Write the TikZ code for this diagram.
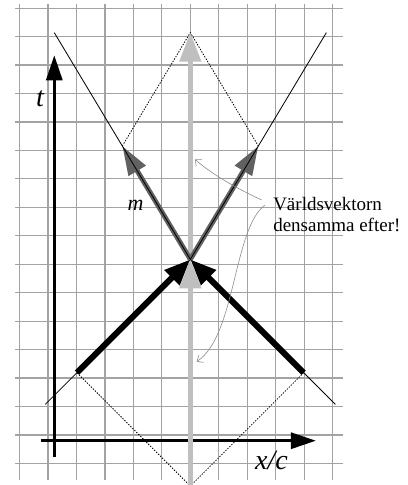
\documentclass[tikz,border=0pt]{standalone}
\usepackage{fontspec}
\setmainfont{Liberation Serif}
\usetikzlibrary{calc, arrows.meta, positioning}

\begin{document}
\begin{tikzpicture}[x=22.67pt, y=22.67pt,
        gridline/.style={line width=1.2pt, black!36},
        cone/.style={line width=0.8pt, black},
        dotline/.style={line width=0.8pt, black, dash pattern=on 1.4pt off 1.4pt},
        axis/.style={line width=3pt, black, -{Triangle[length=25pt,width=16pt]}},
        world/.style={line width=5pt, black!25, -{Triangle[length=29pt,width=21pt]}},
        arrowin/.style={line width=6pt, black, -{Triangle[length=26pt,width=20pt]}},
        arrowout/.style={line width=5pt, black!62, -{Triangle[length=29pt,width=19pt]}},
        pointer/.style={line width=0.6pt, black!45, -{Straight Barb[length=5pt,width=9pt]}}]
        \useasboundingbox (-8.395,-0.953) rectangle (9.558,20.44);
        \draw[gridline] (-7.73,-0.73) grid (6.74,20.27);

        % events
        \coordinate (E) at (0,9);
        \coordinate (A) at (-5,4);
        \coordinate (B) at (5,4);
        \coordinate (C) at (-3,14);
        \coordinate (D) at (3,14);
        \coordinate (top) at (0,19);
        \coordinate (bot) at (0,-1);
        \coordinate (O) at (-6,1);

        \draw[dotline] (C) -- (top) -- (D);
        \draw[dotline] (A) -- (bot) -- (B);

        % axes
        \draw[axis] ($(O)+(0,-0.7)$) -- ($(O)+(0,17)$);
        \draw[axis] ($(O)+(-0.6,0)$) -- ($(O)+(11.54,0)$);
        \node (tlabel) at (-6.63,16.1) {\fontsize{28}{30}\selectfont\itshape t};
        \node (xlabel) at (3.58,0.13) {\fontsize{28}{30}\selectfont\itshape x/c};

        \draw[world] (bot) -- (E);
        \draw[world] (E) -- (top);

        \draw[cone] ($(E)!1.28!(A)$) -- (E) -- ($(E)!1.28!(B)$);
        \draw[arrowin] (A) -- (E);
        \draw[arrowin] (B) -- (E);
        \draw[arrowout] (E) -- (C);
        \draw[arrowout] (E) -- (D);
        \draw[cone] ($(E)!2!(C)$) -- (E) -- ($(E)!2!(D)$);
        \node (mlabel) at (-2.41,11.37) {\fontsize{22}{24}\selectfont\itshape m};

        \node[anchor=north west, inner sep=0pt, align=left, font=\fontsize{19}{20.7}\selectfont] (note) at (3.65,11.75) {Världsvektorn\\densamma efter!};
        \coordinate (up) at (0.21,13.41);
        \coordinate (down) at (0.28,4.49);
        \draw[pointer] ($(note.north west)+(-0.5,-0.13)$) .. controls (2.3,12.0) and (1.0,12.7) .. (up);
        \draw[pointer] ($(note.north west)+(-0.35,-0.35)$) .. controls (1.9,10.4) and (2.0,5.6) .. (down);
    \end{tikzpicture}
\end{document}
